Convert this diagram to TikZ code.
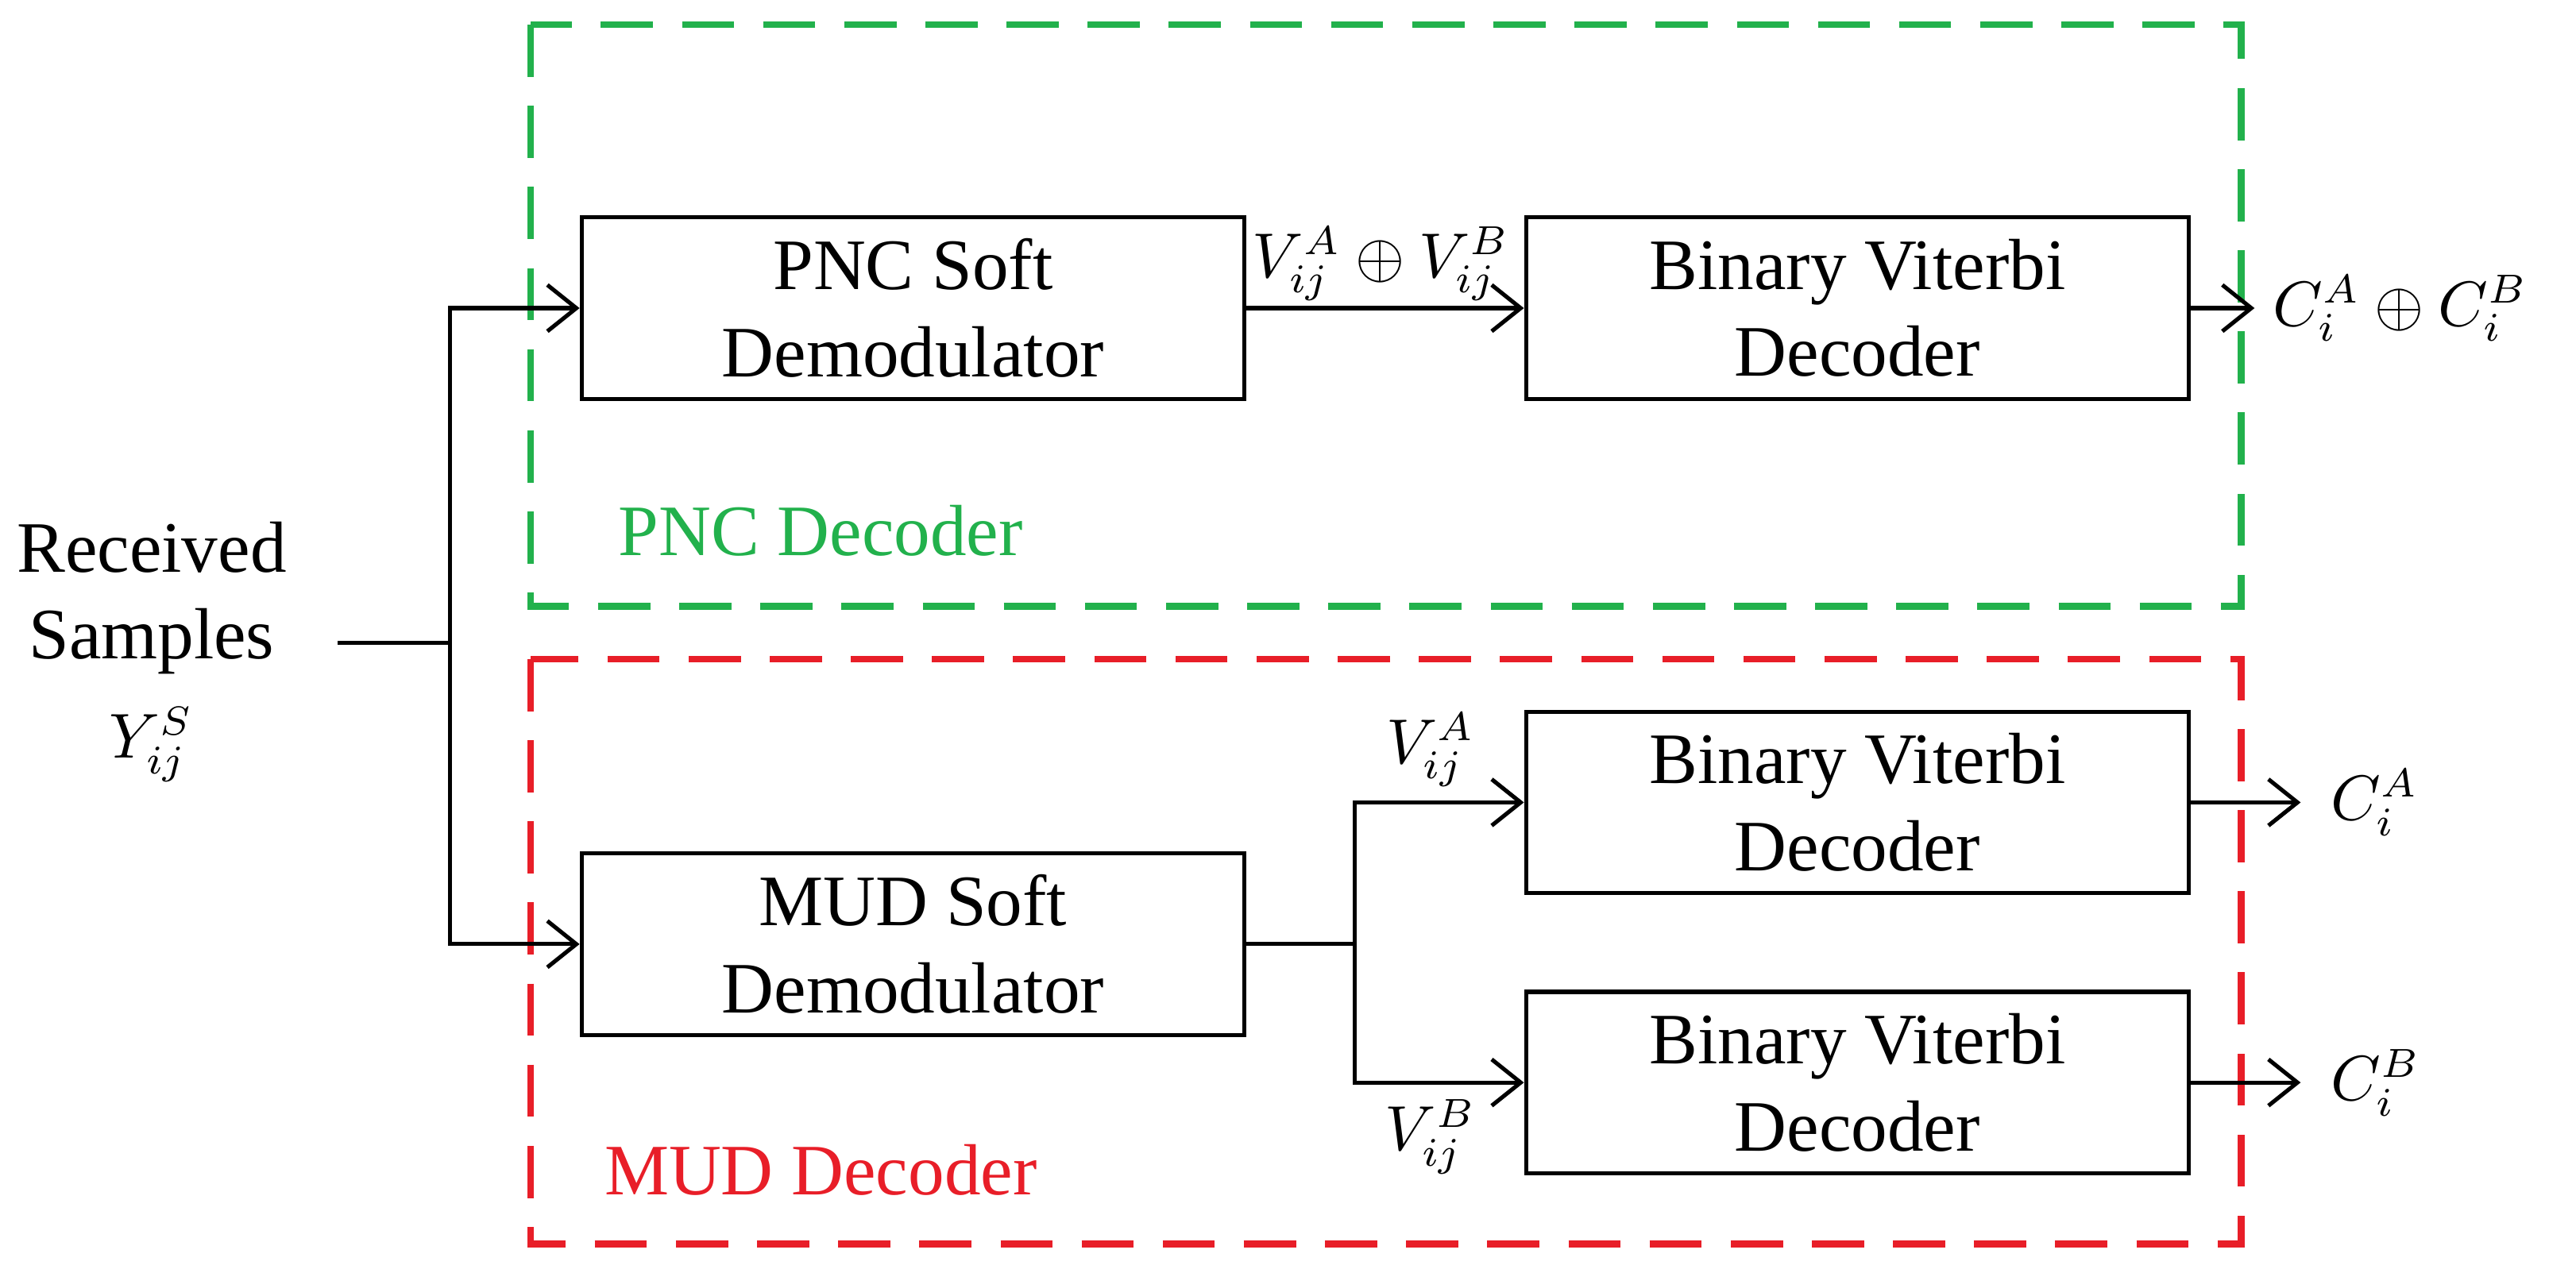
\documentclass[tikz,border=0pt]{standalone}
\usepackage{fontspec}
\setmainfont{Liberation Serif}
\usetikzlibrary{arrows.meta}
\definecolor{gr}{RGB}{34,177,76}
\definecolor{rd}{RGB}{232,30,40}
\begin{document}
\begin{tikzpicture}[x=0.01cm,y=-0.01cm,
  box/.style={draw,line width=0.7pt,align=center,font=\fontsize{12.5}{15}\selectfont,inner sep=0pt,minimum width=4.02cm,minimum height=1.1cm},
  arr/.style={line width=0.7pt,-{Straight Barb[length=5pt,width=8pt]}},
  ln/.style={line width=0.7pt},
  dbox/.style={line width=1.2pt,dash pattern=on 9pt off 5pt},
  lab/.style={font=\fontsize{12.5}{15}\selectfont},
  mlab/.style={font=\fontsize{10.5}{12}\selectfont,inner sep=1pt}]
\useasboundingbox (0,0) rectangle (1563,770);
\draw[dbox,gr] (322,15) rectangle (1360,368);
\draw[dbox,rd] (322,400) rectangle (1360,755);
\node[box] (pnc) at (554,187) {PNC Soft\\Demodulator};
\node[box] (bv1) at (1127,187) {Binary Viterbi\\Decoder};
\node[box] (mud) at (554,573) {MUD Soft\\Demodulator};
\node[box] (bv2) at (1127,487) {Binary Viterbi\\Decoder};
\node[box] (bv3) at (1127,657) {Binary Viterbi\\Decoder};
\node[lab,gr] (pl) at (498,322) {PNC Decoder};
\node[lab,rd] (ml) at (498,710) {MUD Decoder};
\node[lab,align=center] (rs) at (92,363) {Received\\Samples};
\node[mlab] (y) at (92,452) {$Y_{ij}^{S}$};
\coordinate (s) at (205,390);
\coordinate (j) at (273,390);
\draw[ln] (s) -- (j);
\draw[arr] (j) |- (pnc.west);
\draw[arr] (j) |- (mud.west);
\draw[arr] (pnc) -- (bv1);
\node[mlab] (vx) at (838,160) {$V_{ij}^{A}\oplus V_{ij}^{B}$};
\coordinate (k) at (822,573);
\draw[ln] (mud.east) -- (k);
\draw[arr] (k) |- (bv2.west);
\draw[arr] (k) |- (bv3.west);
\node[mlab] (va) at (868,455) {$V_{ij}^{A}$};
\node[mlab] (vb) at (868,690) {$V_{ij}^{B}$};
\node[mlab,anchor=west] (o1) at (1375,187) {$C_{i}^{A}\oplus C_{i}^{B}$};
\node[mlab,anchor=west] (o2) at (1410,487) {$C_{i}^{A}$};
\node[mlab,anchor=west] (o3) at (1410,657) {$C_{i}^{B}$};
\draw[arr,shorten >=2pt] (bv1.east) -- (o1.west);
\draw[arr,shorten >=4pt] (bv2.east) -- (o2.west);
\draw[arr,shorten >=4pt] (bv3.east) -- (o3.west);
\end{tikzpicture}
\end{document}
